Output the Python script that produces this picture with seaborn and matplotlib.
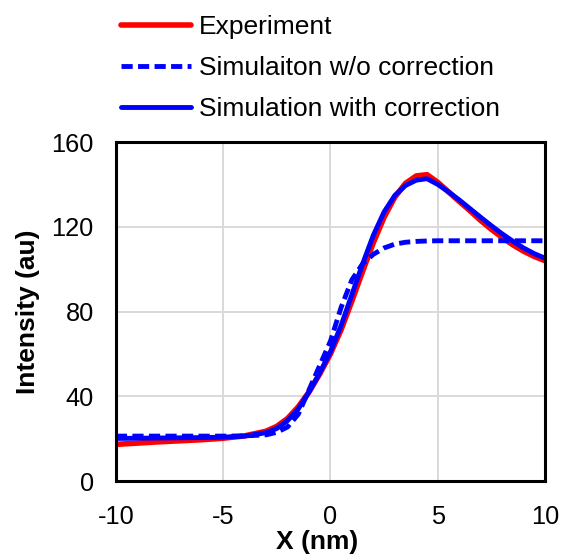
import matplotlib
matplotlib.use("Agg")
import matplotlib.pyplot as plt
import seaborn as sns
import pandas as pd

x = [-10, -9, -8, -7, -6, -5, -4, -3, -2.5, -2, -1.5, -1, -0.5, 0, 0.5, 1, 1.5, 2,
     2.5, 3, 3.5, 4, 4.5, 5, 5.5, 6, 6.5, 7, 7.5, 8, 8.5, 9, 9.5, 10]

experiment = [17.3, 17.9, 18.5, 19.0, 19.5, 20.2, 21.3, 23.5, 25.8, 29.5, 35.0, 42.0,
              50.5, 60.0, 71.5, 85.0, 99.0, 112.5, 124.5, 134.0, 140.5, 144.0, 144.6,
              141.0, 136.5, 132.0, 127.6, 123.0, 118.8, 115.0, 111.5, 108.5, 106.0, 104.0]

sim_wo = [21.2, 21.2, 21.2, 21.2, 21.2, 21.2, 21.3, 21.8, 23.0, 25.5, 31.5, 43.0,
          54.5, 66.0, 82.0, 95.0, 102.5, 107.0, 110.0, 111.8, 112.7, 113.1, 113.3,
          113.4, 113.4, 113.4, 113.4, 113.4, 113.4, 113.4, 113.4, 113.4, 113.4, 113.4]

sim_with = [20.1, 20.2, 20.3, 20.4, 20.5, 20.7, 21.2, 22.8, 24.8, 28.5, 34.0, 42.0,
            51.0, 61.0, 73.5, 88.0, 102.5, 116.0, 127.0, 134.8, 139.5, 142.0, 142.7,
            140.0, 136.5, 132.7, 128.6, 124.5, 120.5, 116.7, 113.2, 110.0, 107.3, 105.2]

labels = ["Experiment", "Simulaiton w/o correction", "Simulation with correction"]
x_ticks = [-10, -5, 0, 5, 10]
y_ticks = [0, 40, 80, 120, 160]

df = pd.DataFrame({"x": x, "exp": experiment, "wo": sim_wo, "with": sim_with})

sns.set_style("white")
plt.rcParams["font.family"] = ["Liberation Sans", "DejaVu Sans"]
plt.rcParams["text.color"] = "black"
plt.rcParams["axes.labelcolor"] = "black"
plt.rcParams["xtick.color"] = "black"
plt.rcParams["ytick.color"] = "black"

fig = plt.figure(figsize=(5.68, 5.57), dpi=100)
ax = fig.add_axes([0.204, 0.1364, 0.7555, 0.6086])

sns.lineplot(data=df, x="x", y="exp", ax=ax, color="#ff0000", linewidth=4.0, label=labels[0])
sns.lineplot(data=df, x="x", y="with", ax=ax, color="#0000ff", linewidth=3.5, label=labels[2])
sns.lineplot(data=df, x="x", y="wo", ax=ax, color="#0000ff", linewidth=3.5,
             dashes=False, label=labels[1])
ax.lines[-1].set_linestyle((0, (2.3, 1.1)))
for ln in ax.lines:
    ln.set_solid_joinstyle("round")

ax.set_xlim(-10, 10)
ax.set_ylim(0, 160)
ax.set_xticks(x_ticks)
ax.set_yticks(y_ticks)
ax.set_xticklabels([str(v) for v in x_ticks])
ax.set_yticklabels([str(v) for v in y_ticks])
ax.tick_params(axis="both", length=0, labelsize=18.3, labelcolor="black")
ax.tick_params(axis="x", pad=17)
ax.tick_params(axis="y", pad=16)
ax.grid(True, color="#d9d9d9", linewidth=1.4)
ax.set_axisbelow(True)
for s in ax.spines.values():
    s.set_visible(True)
    s.set_color("black")
    s.set_linewidth(2.2)

ax.set_xlabel("X (nm)", fontsize=19, fontweight="bold", color="black")
ax.set_ylabel("Intensity (au)", fontsize=19, fontweight="bold", labelpad=8, color="black")
ax.xaxis.set_label_coords(0.47, -0.143)

handles, labs = ax.get_legend_handles_labels()
order = [labs.index(l) for l in labels]
ax.get_legend().remove()
leg = fig.legend([handles[i] for i in order], [labs[i] for i in order],
                 loc="upper left", bbox_to_anchor=(121 / 568, 1 - 15 / 557),
                 frameon=False, fontsize=19.0, handlelength=2.65, handletextpad=0.3,
                 labelspacing=0.65, borderpad=0, borderaxespad=0)
for t in leg.get_texts():
    t.set_color("black")

fig.savefig("out.png", dpi=100)
